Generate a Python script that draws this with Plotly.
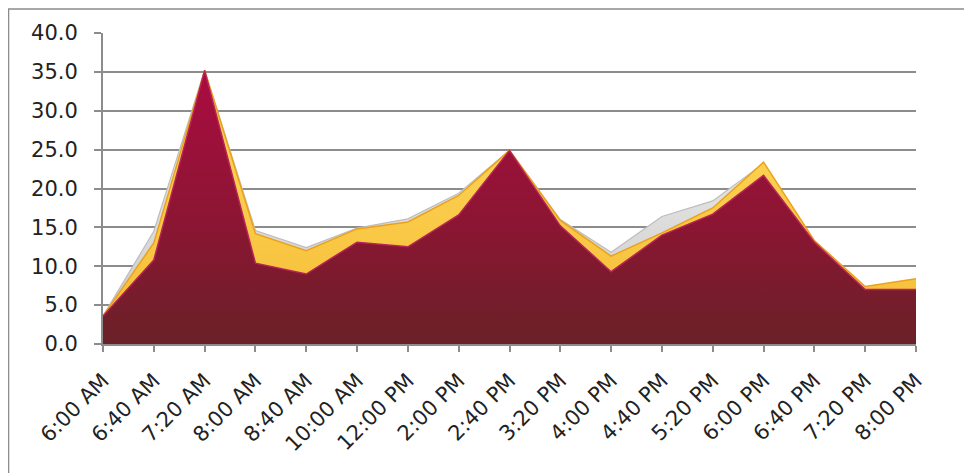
import plotly.graph_objects as go

categories = ["6:00 AM", "6:40 AM", "7:20 AM", "8:00 AM", "8:40 AM", "10:00 AM",
              "12:00 PM", "2:00 PM", "2:40 PM", "3:20 PM", "4:00 PM", "4:40 PM",
              "5:20 PM", "6:00 PM", "6:40 PM", "7:20 PM", "8:00 PM"]

gray_values = [3.6, 14.5, 35.2, 14.6, 12.4, 14.9, 16.1, 19.4, 24.9, 16.0,
               11.8, 16.4, 18.4, 23.2, 13.2, 7.3, 8.2]
gold_values = [3.6, 13.0, 35.2, 14.2, 12.0, 14.8, 15.7, 19.1, 24.9, 15.9,
               11.3, 14.3, 17.5, 23.4, 13.3, 7.4, 8.4]
red_values = [3.6, 10.8, 35.2, 10.4, 9.0, 13.1, 12.5, 16.6, 24.9, 15.2,
              9.3, 14.0, 16.7, 21.7, 13.1, 7.0, 7.0]

y_ticks = [0, 5, 10, 15, 20, 25, 30, 35, 40]

fig = go.Figure()

fig.add_trace(go.Scatter(
    x=categories, y=gray_values, mode="lines", fill="tozeroy",
    line=dict(color="#BDBDBD", width=1.2),
    fillgradient=dict(type="vertical",
                      colorscale=[[0, "#C9C9C9"], [1, "#F4F4F4"]]),
    hoverinfo="skip", showlegend=False))

fig.add_trace(go.Scatter(
    x=categories, y=gold_values, mode="lines", fill="tozeroy",
    line=dict(color="#EBA21A", width=1.5),
    fillgradient=dict(type="vertical",
                      colorscale=[[0, "#F5BC35"], [1, "#FFDA5E"]]),
    hoverinfo="skip", showlegend=False))

fig.add_trace(go.Scatter(
    x=categories, y=red_values, mode="lines", fill="tozeroy",
    line=dict(color="#B8245A", width=1.5),
    fillgradient=dict(type="vertical",
                      colorscale=[[0, "#6A2127"], [0.45, "#8C1533"], [1, "#AA0C40"]]),
    hoverinfo="skip", showlegend=False))

# figure is offset by the page's default 8px body margin
fig.update_layout(
    width=964, height=465,
    margin=dict(l=95, r=56, t=25, b=129, autoexpand=False),
    paper_bgcolor="white", plot_bgcolor="white",
    font=dict(family="DejaVu Sans, Open Sans, sans-serif", color="#222222"),
    shapes=[dict(type="rect", xref="paper", yref="paper",
                 x0=-0.1162, x1=1.0627, y0=-0.45, y1=1.0775,
                 line=dict(color="#8C8C8C", width=1.5), layer="below")],
)

fig.update_xaxes(
    type="category", range=[0, 16], automargin=False,
    tickangle=-45, tickfont=dict(size=21), ticklabelstandoff=8,
    ticks="outside", ticklen=6, tickcolor="#8C8C8C", tickwidth=1.5,
    showline=True, linecolor="#8C8C8C", linewidth=2,
    showgrid=False, zeroline=False, fixedrange=True,
)

fig.update_yaxes(
    range=[0, 40], tickvals=y_ticks, tickformat=".1f", automargin=False,
    tickfont=dict(size=21), ticklabelstandoff=12,
    ticks="outside", ticklen=7, tickcolor="#8C8C8C", tickwidth=1.5,
    showline=True, linecolor="#8C8C8C", linewidth=2,
    showgrid=True, gridcolor="#8C8C8C", gridwidth=1.5,
    zeroline=False, layer="below traces", fixedrange=True,
)

fig.write_html("out.html")
